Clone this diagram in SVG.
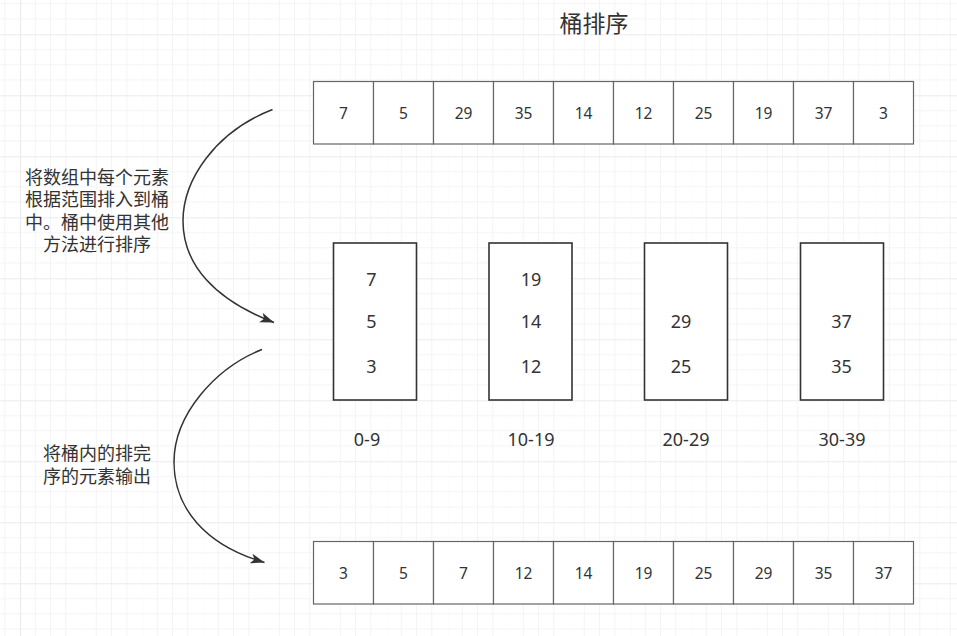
<svg xmlns="http://www.w3.org/2000/svg" width="957" height="636" viewBox="0 0 957 636">
<defs>
<pattern id="grid" x="20" y="34.3" width="61" height="61" patternUnits="userSpaceOnUse">
<path d="M15.25 0V61M30.5 0V61M45.75 0V61M0 15.25H61M0 30.5H61M0 45.75H61" stroke="#f4f4f4" stroke-width="1" fill="none"/>
<path d="M0.5 0V61M0 0.5H61" stroke="#ebebeb" stroke-width="1.2" fill="none"/>
</pattern>
<marker id="arr" markerUnits="userSpaceOnUse" markerWidth="16" markerHeight="12" refX="14" refY="5" orient="auto" viewBox="0 0 16 12">
<path d="M0,0 L14,5 L0,10 L3.5,5 Z" fill="#333333"/>
</marker>
<style>
.cell{fill:#ffffff;stroke:#666666;stroke-width:1.2}
.bucket{fill:#ffffff;stroke:#333333;stroke-width:1.6}
.num{font-family:"Noto Sans","Open Sans",sans-serif;font-size:15.5px;fill:#333333;text-anchor:middle;dominant-baseline:central}
.bnum{font-family:"Noto Sans","Open Sans",sans-serif;font-size:18px;fill:#333333;text-anchor:middle;dominant-baseline:central}
.cjk{font-family:"Liberation Sans","Noto Sans CJK SC",sans-serif;font-size:18px;fill:#333333;text-anchor:middle;dominant-baseline:central}
.title{font-family:"Liberation Sans","Noto Sans CJK SC",sans-serif;font-size:23px;fill:#333333;text-anchor:middle;dominant-baseline:central}
.edge{fill:none;stroke:#333333;stroke-width:1.5}
</style>
</defs>
<rect width="957" height="636" fill="#ffffff"/>
<rect width="957" height="636" fill="url(#grid)"/>

<g id="title"><text class="title" x="594" y="23.5">桶排序</text></g>

<g id="input-array">
<rect class="cell" x="313.5" y="81.5" width="60" height="62.5"/><text class="num" x="343.5" y="113">7</text>
<rect class="cell" x="373.5" y="81.5" width="60" height="62.5"/><text class="num" x="403.5" y="113">5</text>
<rect class="cell" x="433.5" y="81.5" width="60" height="62.5"/><text class="num" x="463.5" y="113">29</text>
<rect class="cell" x="493.5" y="81.5" width="60" height="62.5"/><text class="num" x="523.5" y="113">35</text>
<rect class="cell" x="553.5" y="81.5" width="60" height="62.5"/><text class="num" x="583.5" y="113">14</text>
<rect class="cell" x="613.5" y="81.5" width="60" height="62.5"/><text class="num" x="643.5" y="113">12</text>
<rect class="cell" x="673.5" y="81.5" width="60" height="62.5"/><text class="num" x="703.5" y="113">25</text>
<rect class="cell" x="733.5" y="81.5" width="60" height="62.5"/><text class="num" x="763.5" y="113">19</text>
<rect class="cell" x="793.5" y="81.5" width="60" height="62.5"/><text class="num" x="823.5" y="113">37</text>
<rect class="cell" x="853.5" y="81.5" width="60" height="62.5"/><text class="num" x="883.5" y="113">3</text>
</g>

<g id="note-distribute">
<text class="cjk" x="97" y="178">将数组中每个元素</text>
<text class="cjk" x="97" y="200">根据范围排入到桶</text>
<text class="cjk" x="97" y="222.5">中。桶中使用其他</text>
<text class="cjk" x="97" y="245">方法进行排序</text>
</g>

<g id="bucket-0-9">
<rect class="bucket" x="333.5" y="243" width="83" height="157"/>
<text class="bnum" x="371.5" y="278.5">7</text>
<text class="bnum" x="371.5" y="320.5">5</text>
<text class="bnum" x="371.5" y="366">3</text>
<text class="bnum" x="367" y="439">0-9</text>
</g>
<g id="bucket-10-19">
<rect class="bucket" x="489" y="243" width="83" height="157"/>
<text class="bnum" x="531" y="278.5">19</text>
<text class="bnum" x="531" y="320.5">14</text>
<text class="bnum" x="531" y="366">12</text>
<text class="bnum" x="531" y="439">10-19</text>
</g>
<g id="bucket-20-29">
<rect class="bucket" x="644.5" y="243" width="83" height="157"/>
<text class="bnum" x="681" y="320.5">29</text>
<text class="bnum" x="681" y="366">25</text>
<text class="bnum" x="686" y="439">20-29</text>
</g>
<g id="bucket-30-39">
<rect class="bucket" x="800.5" y="243" width="83" height="157"/>
<text class="bnum" x="841.5" y="320.5">37</text>
<text class="bnum" x="841.5" y="366">35</text>
<text class="bnum" x="842" y="439">30-39</text>
</g>

<g id="note-output">
<text class="cjk" x="97" y="454">将桶内的排完</text>
<text class="cjk" x="97" y="476.5">序的元素输出</text>
</g>

<g id="output-array">
<rect class="cell" x="313.5" y="541.5" width="60" height="62.5"/><text class="num" x="343.5" y="573">3</text>
<rect class="cell" x="373.5" y="541.5" width="60" height="62.5"/><text class="num" x="403.5" y="573">5</text>
<rect class="cell" x="433.5" y="541.5" width="60" height="62.5"/><text class="num" x="463.5" y="573">7</text>
<rect class="cell" x="493.5" y="541.5" width="60" height="62.5"/><text class="num" x="523.5" y="573">12</text>
<rect class="cell" x="553.5" y="541.5" width="60" height="62.5"/><text class="num" x="583.5" y="573">14</text>
<rect class="cell" x="613.5" y="541.5" width="60" height="62.5"/><text class="num" x="643.5" y="573">19</text>
<rect class="cell" x="673.5" y="541.5" width="60" height="62.5"/><text class="num" x="703.5" y="573">25</text>
<rect class="cell" x="733.5" y="541.5" width="60" height="62.5"/><text class="num" x="763.5" y="573">29</text>
<rect class="cell" x="793.5" y="541.5" width="60" height="62.5"/><text class="num" x="823.5" y="573">35</text>
<rect class="cell" x="853.5" y="541.5" width="60" height="62.5"/><text class="num" x="883.5" y="573">37</text>
</g>

<g id="connectors">
<path class="edge" d="M272.5,109.5 C215,132 183,180 183,221 C183,265 215,300 274,322.5" marker-end="url(#arr)"/>
<path class="edge" d="M262,349.5 C215,368 174,415 174,462 C174,508 205,545 264.5,562.5" marker-end="url(#arr)"/>
</g>
</svg>
